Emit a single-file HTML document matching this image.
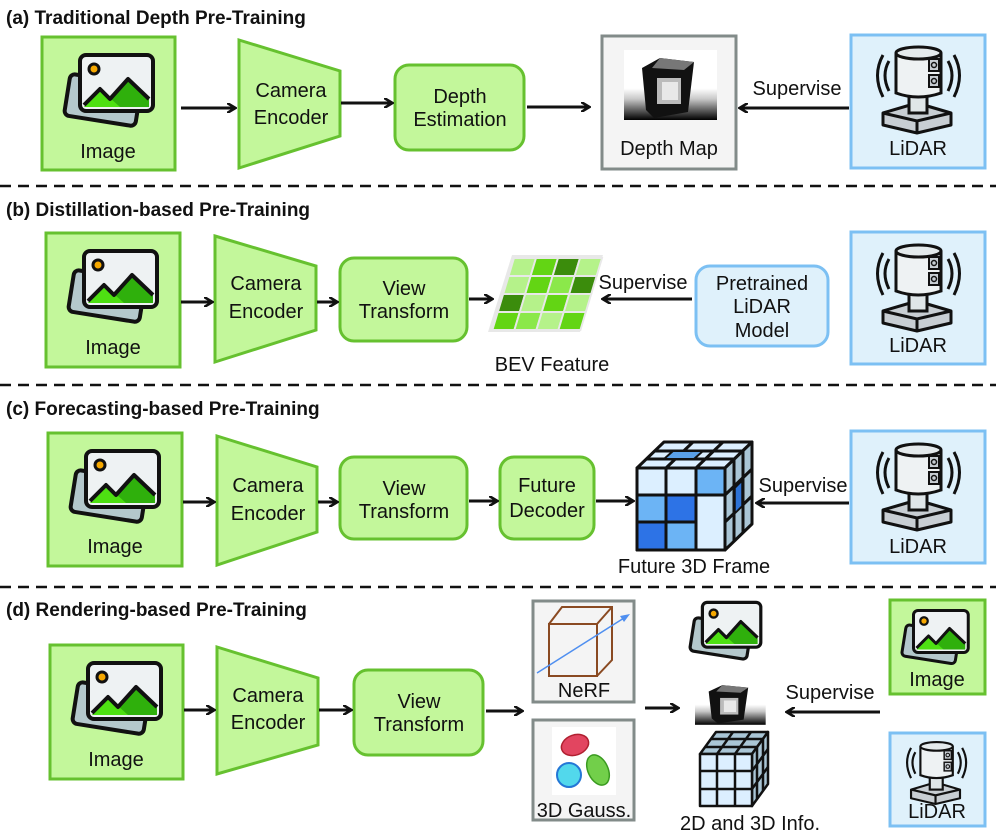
<!DOCTYPE html>
<html><head><meta charset="utf-8"><style>
html,body{margin:0;padding:0;background:#fff;}
svg{display:block;font-family:"Liberation Sans","DejaVu Sans",sans-serif;}
</style></head><body>
<svg width="996" height="835" viewBox="0 0 996 835" xmlns="http://www.w3.org/2000/svg">
<defs>
<marker id="ah" markerWidth="10" markerHeight="10" refX="8" refY="5" orient="auto" markerUnits="userSpaceOnUse">
<path d="M1,0.5 L8.5,5 L1,9.5" fill="none" stroke="#111" stroke-width="2.6" stroke-linecap="round"/>
</marker>
<linearGradient id="dg" x1="0" y1="0" x2="0" y2="1">
<stop offset="0" stop-color="#fff"/><stop offset="0.55" stop-color="#fff"/><stop offset="0.7" stop-color="#c8c8c8"/><stop offset="1" stop-color="#000"/>
</linearGradient>
<g id="imgicon">
<g transform="rotate(9 60 68)"><rect x="24" y="42" width="72" height="42" rx="5" fill="#b4c8cc" stroke="#111" stroke-width="4"/></g>
<rect x="38" y="18" width="73" height="56" rx="6" fill="#eef2f3" stroke="#111" stroke-width="4"/>
<circle cx="52" cy="32" r="5" fill="#f6a800" stroke="#111" stroke-width="3"/>
<path d="M42,70 L58,52 L68,62 L86,42 L107,62 L107,70 Z" fill="#2fb00c"/>
<path d="M42,70 L58,52 L78,70 Z" fill="#4ee012"/>
<path d="M42,68 L58,52 L68,62 L86,42 L107,62" fill="none" stroke="#111" stroke-width="4" stroke-linejoin="round"/>
</g>
<g id="lidicon">
<path d="M38,28 Q30,42 38,58 M32,22 Q21,42 32,64" fill="none" stroke="#111" stroke-width="3"/>
<path d="M97,28 Q105,42 97,58 M103,22 Q114,42 103,64" fill="none" stroke="#111" stroke-width="3"/>
<path d="M32,80 L66,70 L100,80 L100,92 L66,100 L32,92 Z" fill="#c8ced3" stroke="#111" stroke-width="3" stroke-linejoin="round"/>
<path d="M32,80 L66,88 L100,80 M66,88 L66,100" fill="none" stroke="#111" stroke-width="3"/>
<rect x="58" y="62" width="18" height="18" fill="#dfe6e8" stroke="#111" stroke-width="3"/>
<path d="M45,20 L45,60 Q67,68 90,60 L90,20" fill="#eef2f3" stroke="#111" stroke-width="3"/>
<ellipse cx="67.5" cy="20" rx="22.5" ry="6" fill="#e4eaec" stroke="#111" stroke-width="3"/>
<rect x="78" y="26" width="10" height="12" fill="#c8ced3" stroke="#111" stroke-width="2"/>
<rect x="78" y="42" width="10" height="12" fill="#c8ced3" stroke="#111" stroke-width="2"/>
<circle cx="83" cy="32" r="2.5" fill="none" stroke="#111" stroke-width="1.5"/>
<circle cx="83" cy="48" r="2.5" fill="none" stroke="#111" stroke-width="1.5"/>
</g>
<g id="depthicon">
<rect x="0" y="0" width="93" height="70" fill="url(#dg)"/>
<path d="M18,18 L36,8 L70,12 L64,62 L30,68 L22,60 Z" fill="#111"/>
<path d="M36,8 L70,12 L60,20 L28,18 Z" fill="#777"/>
<rect x="33" y="28" width="24" height="26" fill="#bbb"/>
<rect x="38" y="32" width="16" height="18" fill="#e8e8e8"/>
</g>
</defs>

<g font-size="20" fill="#111">
<text x="6" y="24" font-weight="bold" font-size="19">(a) Traditional Depth Pre-Training</text>
<text x="6" y="216" font-weight="bold" font-size="19">(b) Distillation-based Pre-Training</text>
<text x="6" y="415" font-weight="bold" font-size="19">(c) Forecasting-based Pre-Training</text>
<text x="6" y="616" font-weight="bold" font-size="19">(d) Rendering-based Pre-Training</text>

<g stroke="#111" stroke-width="2.5" stroke-dasharray="11,7">
<line x1="0" y1="186" x2="996" y2="186"/><line x1="0" y1="385" x2="996" y2="385"/><line x1="0" y1="587" x2="996" y2="587"/>
</g>

<!-- (a) -->
<rect x="42" y="37" width="133" height="133" fill="#c3f79b" stroke="#66c12f" stroke-width="3"/>
<use href="#imgicon" transform="translate(42,37)"/>
<text x="108" y="158" text-anchor="middle">Image</text>
<path d="M239,40 L340,71 L340,136 L239,168 Z" fill="#c3f79b" stroke="#66c12f" stroke-width="3"/>
<text x="291" y="97" text-anchor="middle">Camera</text><text x="291" y="124" text-anchor="middle">Encoder</text>
<rect x="395" y="65" width="129" height="85" rx="14" fill="#c3f79b" stroke="#66c12f" stroke-width="3"/>
<text x="460" y="103" text-anchor="middle">Depth</text><text x="460" y="126" text-anchor="middle">Estimation</text>
<rect x="602" y="36" width="134" height="133" fill="#f4f4f4" stroke="#828b89" stroke-width="3"/>
<use href="#depthicon" transform="translate(624,50)"/>
<text x="669" y="155" text-anchor="middle">Depth Map</text>
<rect x="851" y="35" width="134" height="133" fill="#dff1fb" stroke="#7cc0f3" stroke-width="3"/>
<use href="#lidicon" transform="translate(851,33)"/>
<text x="918" y="155" text-anchor="middle">LiDAR</text>
<text x="797" y="95" text-anchor="middle">Supervise</text>
<g stroke="#111" stroke-width="3" fill="none">
<line x1="181" y1="108" x2="235" y2="108" marker-end="url(#ah)"/>
<line x1="341" y1="103" x2="392" y2="103" marker-end="url(#ah)"/>
<line x1="527" y1="107" x2="589" y2="107" marker-end="url(#ah)"/>
<line x1="849" y1="108" x2="740" y2="108" marker-end="url(#ah)"/>
</g>

<!-- (b) -->
<rect x="46" y="233" width="134" height="134" fill="#c3f79b" stroke="#66c12f" stroke-width="3"/>
<use href="#imgicon" transform="translate(46,233)"/>
<text x="113" y="354" text-anchor="middle">Image</text>
<path d="M215,236 L316,266 L316,330 L215,362 Z" fill="#c3f79b" stroke="#66c12f" stroke-width="3"/>
<text x="266" y="290" text-anchor="middle">Camera</text><text x="266" y="318" text-anchor="middle">Encoder</text>
<rect x="340" y="258" width="127" height="83" rx="14" fill="#c3f79b" stroke="#66c12f" stroke-width="3"/>
<text x="404" y="295" text-anchor="middle">View</text><text x="404" y="318" text-anchor="middle">Transform</text>
<g transform="translate(488,255)">
<path d="M24,0 L115,0 L92,77 L0,77 Z" fill="#e8e8e8"/>
<g transform="matrix(1,0,-0.3,1,26,3)" stroke="#e8e8e8" stroke-width="2">
<rect x="0" y="0" width="22" height="18" fill="#b5f28a"/><rect x="22" y="0" width="22" height="18" fill="#63d514"/><rect x="44" y="0" width="22" height="18" fill="#3b8c0c"/><rect x="66" y="0" width="22" height="18" fill="#b5f28a"/>
<rect x="0" y="18" width="22" height="18" fill="#b5f28a"/><rect x="22" y="18" width="22" height="18" fill="#63d514"/><rect x="44" y="18" width="22" height="18" fill="#8be84a"/><rect x="66" y="18" width="22" height="18" fill="#3b8c0c"/>
<rect x="0" y="36" width="22" height="18" fill="#3b8c0c"/><rect x="22" y="36" width="22" height="18" fill="#b5f28a"/><rect x="44" y="36" width="22" height="18" fill="#63d514"/><rect x="66" y="36" width="22" height="18" fill="#b5f28a"/>
<rect x="0" y="54" width="22" height="18" fill="#63d514"/><rect x="22" y="54" width="22" height="18" fill="#8be84a"/><rect x="44" y="54" width="22" height="18" fill="#b5f28a"/><rect x="66" y="54" width="22" height="18" fill="#63d514"/>
</g>
</g>
<text x="552" y="371" text-anchor="middle">BEV Feature</text>
<rect x="696" y="266" width="132" height="80" rx="14" fill="#dff1fb" stroke="#7cc0f3" stroke-width="3"/>
<text x="762" y="290" text-anchor="middle">Pretrained</text><text x="762" y="313" text-anchor="middle">LiDAR</text><text x="762" y="337" text-anchor="middle">Model</text>
<text x="643" y="289" text-anchor="middle">Supervise</text>
<rect x="851" y="232" width="134" height="132" fill="#dff1fb" stroke="#7cc0f3" stroke-width="3"/>
<use href="#lidicon" transform="translate(851,231)"/>
<text x="918" y="352" text-anchor="middle">LiDAR</text>
<g stroke="#111" stroke-width="3" fill="none">
<line x1="181" y1="302" x2="212" y2="302" marker-end="url(#ah)"/>
<line x1="317" y1="302" x2="337" y2="302" marker-end="url(#ah)"/>
<line x1="469" y1="299" x2="492" y2="299" marker-end="url(#ah)"/>
<line x1="692" y1="299" x2="603" y2="299" marker-end="url(#ah)"/>
</g>

<!-- (c) -->
<rect x="48" y="433" width="134" height="133" fill="#c3f79b" stroke="#66c12f" stroke-width="3"/>
<use href="#imgicon" transform="translate(48,433)"/>
<text x="115" y="553" text-anchor="middle">Image</text>
<path d="M217,436 L317,467 L317,532 L217,565 Z" fill="#c3f79b" stroke="#66c12f" stroke-width="3"/>
<text x="268" y="492" text-anchor="middle">Camera</text><text x="268" y="520" text-anchor="middle">Encoder</text>
<rect x="340" y="457" width="127" height="82" rx="14" fill="#c3f79b" stroke="#66c12f" stroke-width="3"/>
<text x="404" y="495" text-anchor="middle">View</text><text x="404" y="518" text-anchor="middle">Transform</text>
<rect x="500" y="457" width="94" height="82" rx="14" fill="#c3f79b" stroke="#66c12f" stroke-width="3"/>
<text x="547" y="492" text-anchor="middle">Future</text><text x="547" y="517" text-anchor="middle">Decoder</text>
<g stroke="#111" stroke-width="3" stroke-linejoin="round">
<path d="M637,468 L664,442 L752,442 L725,468 Z" fill="#dcefff"/>
<path d="M646,459 L734,459 M655,451 L743,451 M666,468 L693,442 M696,468 L723,442" fill="none"/>
<path d="M664,459 L673,451 L703,451 L694,459 Z" fill="#5aa0e8" stroke-width="2"/>
<path d="M725,468 L752,442 L752,524 L725,550 Z" fill="#aac6d6"/>
<path d="M734,460 L734,542 M743,451 L743,533 M725,495 L752,469 M725,522 L752,496" fill="none"/>
<path d="M735,488 L742,481 L742,506 L735,513 Z" fill="#2d73d6" stroke-width="1.5"/>
<rect x="637" y="468" width="88" height="82" fill="#dcefff"/>
<rect x="666" y="468" width="30" height="27" fill="#dcefff"/><rect x="696" y="468" width="29" height="27" fill="#6cb4f5"/>
<rect x="637" y="495" width="29" height="27" fill="#6cb4f5"/><rect x="666" y="495" width="30" height="27" fill="#2d73e6"/>
<rect x="637" y="522" width="29" height="28" fill="#2d73e6"/><rect x="666" y="522" width="30" height="28" fill="#6cb4f5"/>
</g>
<text x="694" y="573" text-anchor="middle">Future 3D Frame</text>
<text x="803" y="492" text-anchor="middle">Supervise</text>
<rect x="851" y="431" width="134" height="132" fill="#dff1fb" stroke="#7cc0f3" stroke-width="3"/>
<use href="#lidicon" transform="translate(851,430)"/>
<text x="918" y="553" text-anchor="middle">LiDAR</text>
<g stroke="#111" stroke-width="3" fill="none">
<line x1="183" y1="502" x2="214" y2="502" marker-end="url(#ah)"/>
<line x1="318" y1="502" x2="337" y2="502" marker-end="url(#ah)"/>
<line x1="469" y1="501" x2="497" y2="501" marker-end="url(#ah)"/>
<line x1="596" y1="501" x2="633" y2="501" marker-end="url(#ah)"/>
<line x1="849" y1="503" x2="757" y2="503" marker-end="url(#ah)"/>
</g>

<!-- (d) -->
<rect x="50" y="645" width="133" height="134" fill="#c3f79b" stroke="#66c12f" stroke-width="3"/>
<use href="#imgicon" transform="translate(50,645)"/>
<text x="116" y="766" text-anchor="middle">Image</text>
<path d="M217,647 L318,678 L318,745 L217,774 Z" fill="#c3f79b" stroke="#66c12f" stroke-width="3"/>
<text x="268" y="702" text-anchor="middle">Camera</text><text x="268" y="729" text-anchor="middle">Encoder</text>
<rect x="354" y="670" width="129" height="85" rx="14" fill="#c3f79b" stroke="#66c12f" stroke-width="3"/>
<text x="419" y="708" text-anchor="middle">View</text><text x="419" y="731" text-anchor="middle">Transform</text>
<rect x="533" y="601" width="101" height="101" fill="#f4f4f4" stroke="#828b89" stroke-width="3"/>
<g fill="none" stroke="#8a4a22" stroke-width="2">
<rect x="549" y="624" width="48" height="52"/>
<path d="M549,624 L562,607 L612,607 L612,660 L597,676 M597,624 L612,607"/>
</g>
<line x1="537" y1="673" x2="624" y2="618" stroke="#4f8ff0" stroke-width="1.5"/>
<path d="M630,614 L620,616 L624,622 Z" fill="#4f8ff0"/>
<text x="584" y="697" text-anchor="middle">NeRF</text>
<rect x="533" y="720" width="101" height="100" fill="#f4f4f4" stroke="#828b89" stroke-width="3"/>
<rect x="552" y="727" width="64" height="68" fill="#fff"/>
<ellipse cx="575" cy="745" rx="14" ry="10" transform="rotate(-20 575 745)" fill="#e24560" stroke="#b02030" stroke-width="1.5"/>
<circle cx="569" cy="775" r="12" fill="#52d8ec" stroke="#2477d6" stroke-width="2"/>
<ellipse cx="598" cy="770" rx="10" ry="16" transform="rotate(-25 598 770)" fill="#72cf4a" stroke="#3a9a20" stroke-width="1.5"/>
<text x="584" y="817" text-anchor="middle">3D Gauss.</text>
<use href="#imgicon" transform="translate(672,588) scale(0.8)"/>
<use href="#depthicon" transform="translate(695,680) scale(0.76,0.64)"/>
<g stroke="#111" stroke-width="2.5" stroke-linejoin="round">
<path d="M700,754 L716,732 L768,732 L752,754 Z" fill="#aac6d6"/>
<path d="M752,754 L768,732 L768,784 L752,806 Z" fill="#aac6d6"/>
<rect x="700" y="754" width="52" height="52" fill="#dcefff"/>
<path d="M717,754 L717,806 M735,754 L735,806 M700,771 L752,771 M700,789 L752,789 M717,754 L733,732 M735,754 L751,732 M705,747 L757,747 M711,739 L763,739 M757,747 L757,799 M763,739 L763,791 M752,771 L768,749 M752,789 L768,767" fill="none"/>
</g>
<text x="750" y="830" text-anchor="middle">2D and 3D Info.</text>
<text x="830" y="699" text-anchor="middle">Supervise</text>
<rect x="890" y="600" width="95" height="94" fill="#c3f79b" stroke="#66c12f" stroke-width="3"/>
<use href="#imgicon" transform="translate(885,597) scale(0.75)"/>
<text x="937" y="686" text-anchor="middle">Image</text>
<rect x="890" y="733" width="95" height="93" fill="#dff1fb" stroke="#7cc0f3" stroke-width="3"/>
<use href="#lidicon" transform="translate(888,732) scale(0.72)"/>
<text x="937" y="818" text-anchor="middle">LiDAR</text>
<g stroke="#111" stroke-width="3" fill="none">
<line x1="184" y1="710" x2="214" y2="710" marker-end="url(#ah)"/>
<line x1="319" y1="710" x2="351" y2="710" marker-end="url(#ah)"/>
<line x1="486" y1="711" x2="522" y2="711" marker-end="url(#ah)"/>
<line x1="645" y1="708" x2="678" y2="708" marker-end="url(#ah)"/>
<line x1="880" y1="712" x2="787" y2="712" marker-end="url(#ah)"/>
</g>
</g>
</svg>
</body></html>
